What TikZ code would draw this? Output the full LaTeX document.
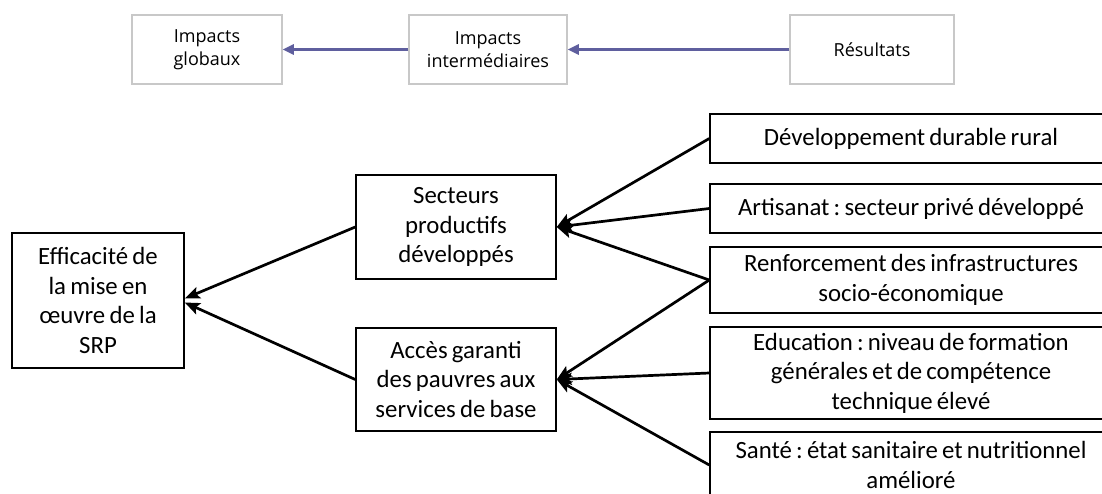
\documentclass[tikz,border=0pt]{standalone}
\usepackage{fontspec}
\setmainfont{Carlito}[WordSpace=0.75]
\newfontfamily\topfont{Open Sans}
\usetikzlibrary{arrows.meta}
\definecolor{topgray}{HTML}{C8C8C8}
\definecolor{toparrow}{HTML}{5F5F9E}
\frenchspacing
\begin{document}
\begin{tikzpicture}[x=1pt,y=-1pt,
 topbox/.style={draw=topgray,line width=1.5pt,inner sep=0pt,minimum height=69pt,align=center,font=\topfont\fontsize{18}{23.5}\selectfont},
 lowbox/.style={draw=black,line width=1.5pt,inner sep=0pt,align=center,font=\fontsize{24.8}{29.5}\selectfont},
 toparr/.style={draw=toparrow,line width=2.5pt,-{Triangle[length=11pt,width=10pt]}},
 lowarr/.style={draw=black,line width=2.7pt,-{Stealth[length=15pt,width=12pt,inset=3pt]}}
]
\useasboundingbox (0,0) rectangle (1102,493);
\fill[white] (0,0) rectangle (1102,493);
\clip (0,0) rectangle (1102,493);
% top row
\node[topbox,minimum width=150pt] (glob) at (207,49.5) {Impacts\\globaux};
\node[topbox,minimum width=158pt] (inter) at (488,49.5) {Impacts\\intermédiaires};
\node[topbox,minimum width=164pt] (res) at (872,49.5) {Résultats};
\draw[toparr] (inter.west) -- (glob.east);
\draw[toparr] (res.west) -- (inter.east);
% lower
\node[lowbox,minimum width=172pt,minimum height=135pt] (eff) at (98,300.5) {Efficacité de\\la mise en\\œuvre de la\\SRP};
\node[lowbox,minimum width=200pt,minimum height=104pt] (sect) at (456,227) {Secteurs\\productifs\\développés};
\node[lowbox,minimum width=200pt,minimum height=103pt] (acc) at (456,379.5) {Accès garanti\\des pauvres aux\\services de base};
\node[lowbox,minimum width=402pt,minimum height=49pt] (dev) at (911,138.5) {Développement durable rural};
\node[lowbox,minimum width=402pt,minimum height=49pt] (art) at (911,208.5) {Artisanat : secteur privé développé};
\node[lowbox,minimum width=402pt,minimum height=66pt] (ren) at (911,280) {Renforcement des infrastructures\\socio-économique};
\node[lowbox,minimum width=402pt,minimum height=92pt] (edu) at (911,373) {Education : niveau de formation\\générales et de compétence\\technique élevé};
\node[lowbox,minimum width=402pt,minimum height=66pt] (san) at (911,465) {Santé : état sanitaire et nutritionnel\\amélioré};
\coordinate (effA) at ([yshift=2pt]eff.east);
\coordinate (effB) at ([yshift=-2pt]eff.east);
\draw[lowarr] (sect.west) -- (effA);
\draw[lowarr] (acc.west) -- (effB);
\draw[lowarr] (dev.west) -- (sect.east);
\draw[lowarr] (art.west) -- (sect.east);
\draw[lowarr] (ren.west) -- (sect.east);
\draw[lowarr] (ren.west) -- (acc.east);
\draw[lowarr] (edu.west) -- (acc.east);
\draw[lowarr] (san.west) -- (acc.east);
\end{tikzpicture}
\end{document}
